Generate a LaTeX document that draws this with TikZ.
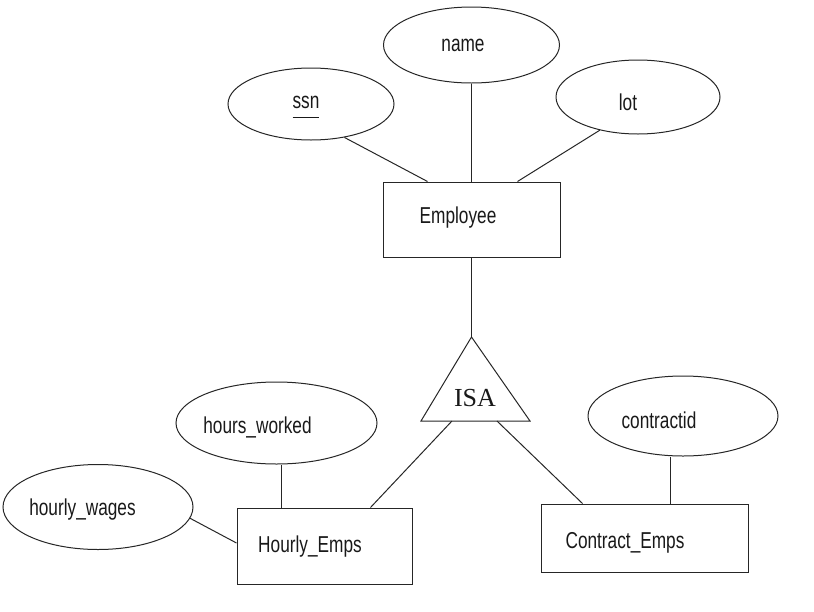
\documentclass[tikz,border=0pt]{standalone}
\usepackage{fontspec}
\newfontfamily\erfont[FakeStretch=0.75]{Liberation Sans}
\newfontfamily\isafont{Liberation Serif}
\usetikzlibrary{shapes.geometric,calc}
\tikzset{%
  % Specifications for style of nodes:
     erbase/.style = {draw=black!85, line width=1pt, inner sep=0pt},
     entity/.style = {erbase, rectangle},
  attribute/.style = {erbase, ellipse},
    erlabel/.style = {font=\erfont\fontsize{23}{26}\selectfont, text=black!90},
}
\begin{document}
\begin{tikzpicture}[x=1pt, y=-1pt, node distance=100pt,
    every label/.style={erlabel}, line width=1pt, draw=black!85]
  \useasboundingbox (0,0) rectangle (814,611);
  % Specification of nodes (position, etc.)
  \node (employee) [entity, minimum width=177pt, minimum height=75pt,
      label={[xshift=-13.5pt, yshift=1.5pt]center:Employee}] at (471.5,219.5) {};
  \node (name) [attribute, above of=employee, yshift=74.5pt,
      minimum width=176pt, minimum height=76pt,
      label={[xshift=-8.5pt]center:name}] {};
  \node (ssn) [attribute, above of=employee, yshift=15.5pt, xshift=-160.5pt,
      minimum width=166pt, minimum height=72pt,
      label={[xshift=-5pt]center:\underline{ssn\strut}}] {};
  \node (lot) [attribute, above of=employee, yshift=22.5pt, xshift=166.5pt,
      minimum width=164pt, minimum height=74pt,
      label={[xshift=-10pt, yshift=-5pt]center:lot}] {};
  \node (isa) [below of=employee, yshift=-78.5pt, xshift=3.5pt,
      font=\isafont\fontsize{26}{28}\selectfont, text=black!90] {ISA};
  \node (hourly) [entity, below of=isa, yshift=-48pt, xshift=-150.5pt,
      minimum width=175pt, minimum height=76pt,
      label={[xshift=-14.5pt, yshift=-1pt]center:Hourly\_Emps}] {};
  \node (contract) [entity, below of=isa, yshift=-40pt, xshift=169.5pt,
      minimum width=207pt, minimum height=68pt,
      label={[xshift=-19.5pt, yshift=-5pt]center:Contract\_Emps}] {};
  \node (hoursWorked) [attribute, above of=hourly, yshift=23pt, xshift=-48pt,
      minimum width=201pt, minimum height=82pt,
      label={[xshift=-19pt, yshift=-4pt]center:hours\_worked}] {};
  \node (hourlyWages) [attribute, left of=hourly, xshift=-126.5pt, yshift=39pt,
      minimum width=190pt, minimum height=85pt,
      label={[xshift=-15.5pt, yshift=-3pt]center:hourly\_wages}] {};
  \node (contractid) [attribute, above of=contract, yshift=22pt, xshift=38.5pt,
      minimum width=190pt, minimum height=80pt,
      label={[xshift=-24pt, yshift=-4pt]center:contractid}] {};
  % ISA triangle round the label
  \draw (isa) ++(-3.5pt,61pt) coordinate (isaTop) -- ++(-50.5pt,-84pt) coordinate (isaLeft)
     -- ++(109pt,0pt) coordinate (isaRight) -- cycle;
  \coordinate (isaToHourly) at ($(isaLeft)!0.284!(isaRight)$);
  \coordinate (isaToContract) at ($(isaLeft)!0.697!(isaRight)$);
  \coordinate (hourlyTop) at ([xshift=45pt]hourly.north west);
  \coordinate (contractTop) at ([xshift=130pt]contract.north west);
  % lines between nodes
  \draw (ssn.-45) -- ([xshift=45pt]employee.north west);
  \draw (name.south) -- (employee.north);
  \draw (lot.221) -- ([xshift=-43pt]employee.north east);
  \draw (employee.south) -- (isaTop);
  \draw (isaToHourly) -- ([xshift=-42pt]hourly.north east);
  \draw (isaToContract) -- ([xshift=42pt]contract.north west);
  \draw (hourlyTop) -- (hourlyTop |- hoursWorked.south);
  \draw (hourlyWages.-7) -- ([yshift=3pt]hourly.west);
  \draw (contractTop) -- (contractTop |- contractid.south);
\end{tikzpicture}
\end{document}
